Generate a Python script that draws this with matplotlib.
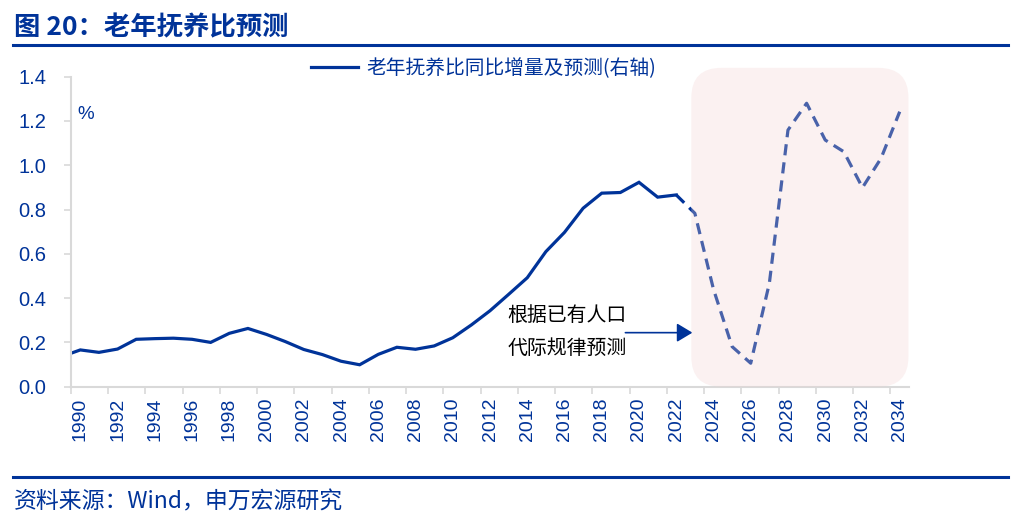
import numpy as np
import matplotlib
matplotlib.use("Agg")
import matplotlib.pyplot as plt
from matplotlib.patches import FancyBboxPatch
from matplotlib.lines import Line2D
from matplotlib.transforms import IdentityTransform

plt.rcParams['font.family'] = ['Noto Sans CJK SC', 'DejaVu Sans']

# 老年抚养比同比增量 (%), 实际值
hist_years = np.arange(1989, 2023)
hist_vals = [0.136, 0.166, 0.155, 0.170, 0.214, 0.217, 0.219, 0.214, 0.200, 0.241,
             0.263, 0.236, 0.204, 0.168, 0.145, 0.115, 0.099, 0.146, 0.178, 0.169,
             0.184, 0.221, 0.279, 0.343, 0.417, 0.492, 0.610, 0.697, 0.806, 0.874,
             0.877, 0.923, 0.856, 0.866]
# 预测值
fc_years = np.arange(2022, 2035)
fc_vals = [0.866, 0.783, 0.440, 0.181, 0.106, 0.467, 1.159, 1.280, 1.114, 1.061,
           0.899, 1.032, 1.242]

blue = '#003399'
grey = '#d9d9d9'
num_font = 'Liberation Sans'

fig = plt.figure(figsize=(10.29, 5.21), dpi=100)
ax = fig.add_axes([0.0690, 0.2578, 0.8144, 0.5950])

ax.plot(hist_years, hist_vals, color=blue, lw=2.3, solid_joinstyle='miter',
        label='老年抚养比同比增量及预测(右轴)')
ax.plot(fc_years, fc_vals, color=blue, lw=2.3, linestyle=(0, (3.5, 2.2)))

ax.set_xlim(1989.5, 2034.5)
ax.set_ylim(0, 1.4)

ax.set_xticks(np.arange(1990, 2035, 2))
ax.set_xticks(np.arange(1989.5, 2034, 2), minor=True)
ax.tick_params(axis='x', which='major', length=0, pad=8, rotation=90,
               labelsize=14, labelcolor=blue)
ax.tick_params(axis='x', which='minor', length=5, width=1.2, color=grey)
ax.set_yticks(np.arange(0, 1.41, 0.2))
ax.set_yticklabels([f'{v:.1f}' for v in np.arange(0, 1.41, 0.2)])
ax.tick_params(axis='y', length=5, width=1.2, color=grey, pad=13,
               labelsize=14.5, labelcolor=blue)
for lab in ax.get_xticklabels() + ax.get_yticklabels():
    lab.set_fontfamily(num_font)

for s in ['top', 'right']:
    ax.spines[s].set_visible(False)
for s in ['left', 'bottom']:
    ax.spines[s].set_color(grey)
    ax.spines[s].set_linewidth(1.5)

ax.text(1989.84, 1.227, '%', color=blue, fontsize=13.5, fontfamily=num_font,
        ha='left', va='center')

# 注释与箭头
ax.annotate('', xy=(2022.87, 0.244), xytext=(2019.27, 0.244),
            arrowprops=dict(arrowstyle='-|>,head_length=0.5,head_width=0.3',
                            mutation_scale=19, color=blue, lw=1.2,
                            shrinkA=0, shrinkB=0))
ax.text(2012.93, 0.248, '根据已有人口\n代际规律预测', fontsize=14.3, color='black',
        ha='left', va='center', linespacing=1.72)

# 预测区间的圆角底色
fig.canvas.draw()
x0, y0 = ax.transData.transform((2022.81, 0))
x1, y1 = ax.transData.transform((2034.47, 1.44))
box = FancyBboxPatch((x0, y0), x1 - x0, y1 - y0,
                     boxstyle='round,pad=0,rounding_size=30',
                     transform=IdentityTransform(), facecolor=(243/255, 210/255, 210/255),
                     edgecolor='none', alpha=0.3, zorder=5)
fig.add_artist(box)

fig.legend(handles=ax.get_lines()[:1], loc='center', bbox_to_anchor=(0.470, 0.868),
           frameon=False, fontsize=14.2, handlelength=2.4, handletextpad=0.4,
           labelcolor=blue, borderpad=0)

# 标题与来源
fig.text(0.0136, 1 - 28 / 521, '图 20：老年抚养比预测', fontsize=19, fontweight='bold',
         color=blue, ha='left', va='center')
fig.add_artist(Line2D([13 / 1029, 1008 / 1029], [1 - 44.5 / 521] * 2,
                      transform=fig.transFigure, color=blue, lw=2.2))
fig.add_artist(Line2D([13 / 1029, 1008 / 1029], [1 - 477 / 521] * 2,
                      transform=fig.transFigure, color=blue, lw=2.2))
fig.text(0.0136, 1 - 502 / 521, '资料来源：Wind，申万宏源研究', fontsize=16.5,
         color=blue, ha='left', va='center')

fig.savefig('out.png', dpi=100)
